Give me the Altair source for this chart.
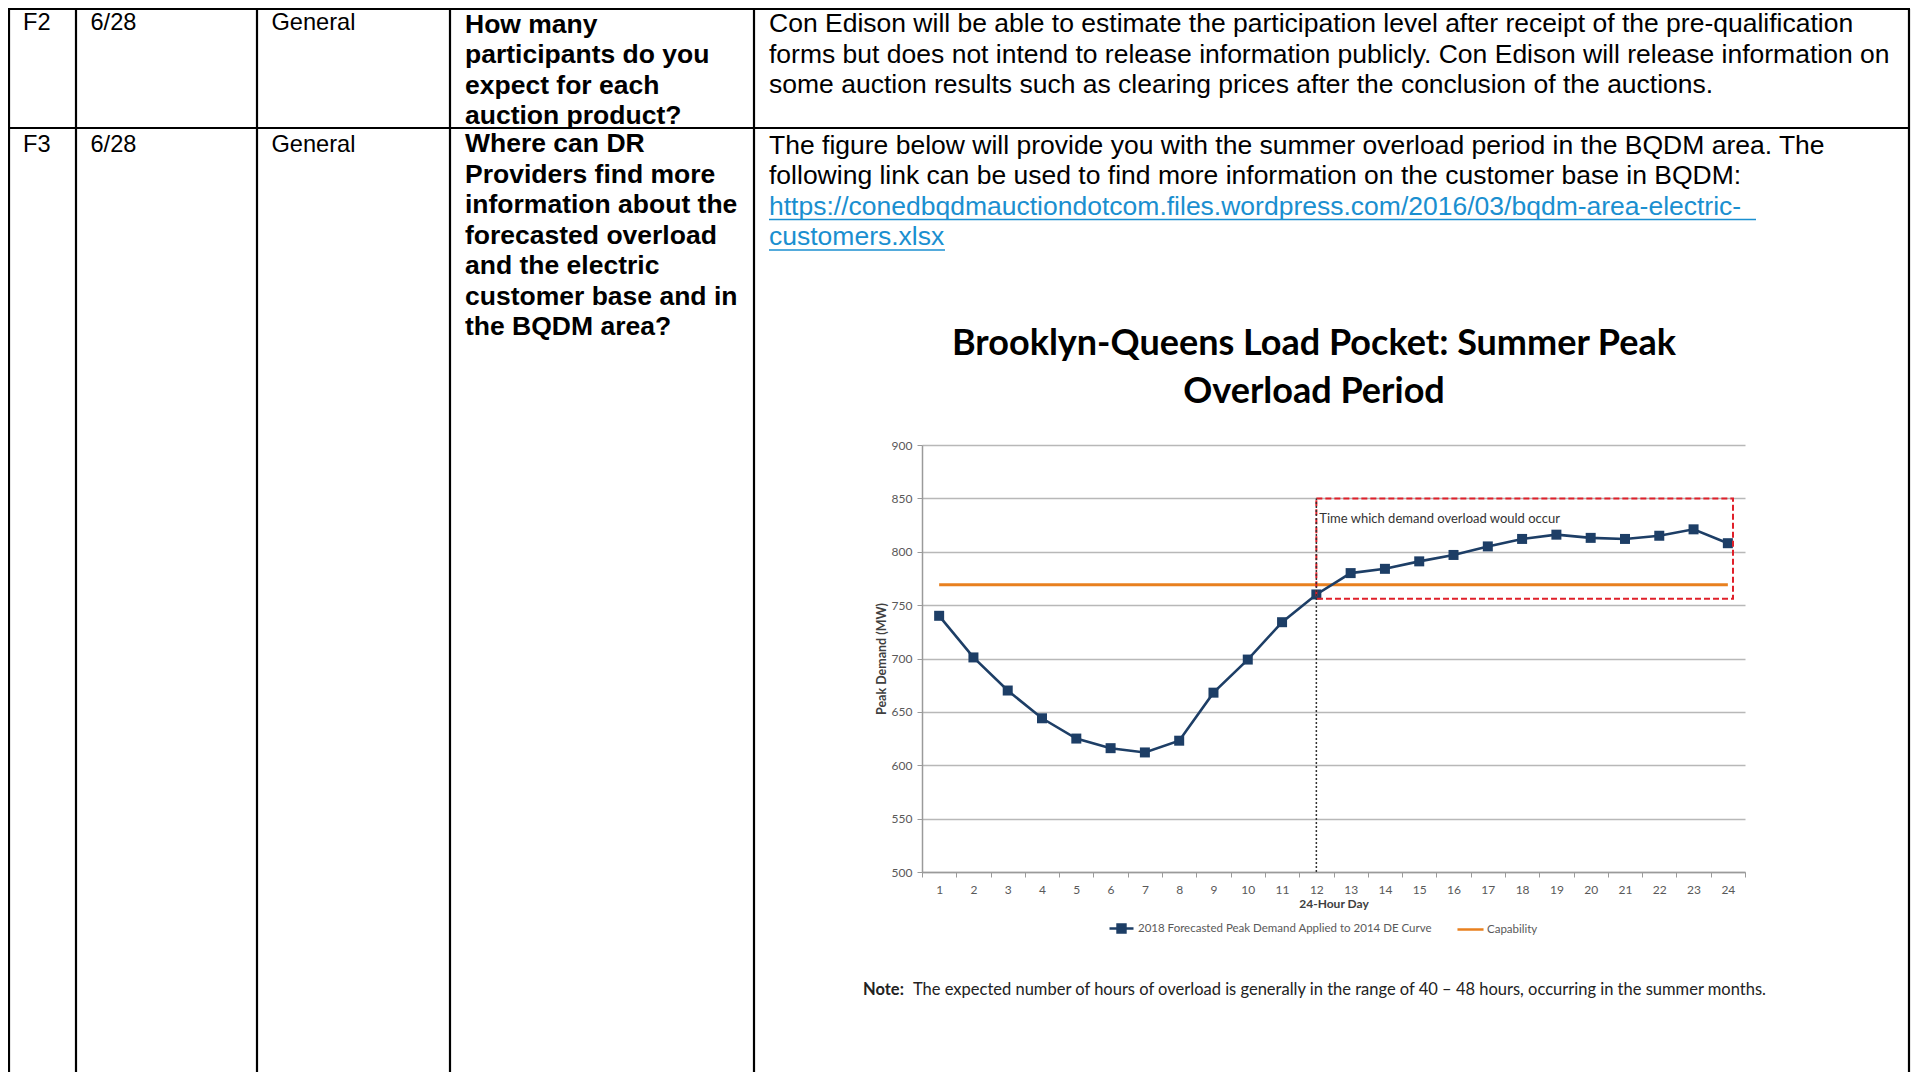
import altair as alt
import pandas as pd

# ------------------------------------------------------------------ chart data
hours = list(range(1, 25))
demand_mw = [740, 701, 670, 644, 625, 616, 612, 623, 668, 699, 734, 760,
             780, 784, 791, 797, 805, 812, 816, 813, 812, 815, 821, 808]
capability_mw = [769, 769, 769, 769, 769, 769, 769, 769, 769, 769, 769, 769,
                 769, 769, 769, 769, 769, 769, 769, 769, 769, 769, 769, 769]
series_names = ["2018 Forecasted Peak Demand Applied to 2014 DE Curve", "Capability"]
y_ticks = [500, 550, 600, 650, 700, 750, 800, 850, 900]
overload_hours = [12, 24.15]
overload_mw = [756, 850]
overload_label = "Time which demand overload would occur"
chart_title = ["Brooklyn-Queens Load Pocket: Summer Peak", "Overload Period"]
x_title = "24-Hour Day"
y_title = "Peak Demand (MW)"
note_bold = "Note:"
note_text = ("The expected number of hours of overload is generally in the range of "
             "40 \u2013 48 hours, occurring in the summer months.")

# ------------------------------------------------------------------ document text
row_ids = ["F2", "F3"]
row_dates = ["6/28", "6/28"]
row_categories = ["General", "General"]
row_questions = [
    ["How many", "participants do you", "expect for each", "auction product?"],
    ["Where can DR", "Providers find more", "information about the",
     "forecasted overload", "and the electric", "customer base and in",
     "the BQDM area?"],
]
row1_answer = [
    "Con Edison will be able to estimate the participation level after receipt of the pre-qualification",
    "forms but does not intend to release information publicly. Con Edison will release information on",
    "some auction results such as clearing prices after the conclusion of the auctions.",
]
row2_answer = [
    "The figure below will provide you with the summer overload period in the BQDM area. The",
    "following link can be used to find more information on the customer base in BQDM:",
]
row2_link = [
    "https://conedbqdmauctiondotcom.files.wordpress.com/2016/03/bqdm-area-electric-",
    "customers.xlsx",
]

# ------------------------------------------------------------------ layout / style
W, H = 823, 427          # plot area
OX, OY = 922, 445        # page position of plot origin
PAD = {"left": OX - 8, "top": OY - 8, "right": 1903 - (OX - 8) - W, "bottom": 200}
NAVY = "#1d3e66"
ORANGE = "#e8801f"
RED = "#e0202a"
GRID = "#b8b8b8"
AX = "#9a9a9a"
LBL = "#595959"
CF = "Lato"
DOC = "Liberation Sans"

anchor = pd.DataFrame({"k": [0]})


def rule(x1, y1, x2, y2, color="#000", width=2.2):
    return alt.Chart(anchor).mark_rule(color=color, strokeWidth=width).encode(
        x=alt.value(x1 - OX), x2=alt.value(x2 - OX),
        y=alt.value(y1 - OY), y2=alt.value(y2 - OY))


def text_block(lines, x, y, size, weight="normal", color="#000", font=DOC,
               align="left", lh=30.5):
    return alt.Chart(anchor).mark_text(
        text=lines, lineHeight=lh, align=align, baseline="alphabetic",
        font=font, fontSize=size, fontWeight=weight, color=color
    ).encode(x=alt.value(x - OX), y=alt.value(y - OY))


# ------------------------------------------------------------------ data frames
demand_df = pd.DataFrame({"hour": hours, "mw": demand_mw, "series": series_names[0]})
cap_df = pd.DataFrame({"hour": hours, "mw": capability_mw, "series": series_names[1]})
box_df = pd.DataFrame({"hour": [overload_hours[0]], "h1": [overload_hours[1]],
                       "mw": [overload_mw[0]], "m1": [overload_mw[1]]})
vline_df = pd.DataFrame({"hour": [overload_hours[0]], "mw": [y_ticks[0]], "m1": [overload_mw[1]]})
ann_df = pd.DataFrame({"hour": [overload_hours[0]], "mw": [overload_mw[1]], "t": [overload_label]})

x_bounds = [h - 0.5 for h in hours] + [hours[-1] + 0.5]
xscale = alt.Scale(domain=[x_bounds[0], x_bounds[-1]], nice=False, zero=False)
yscale = alt.Scale(domain=[y_ticks[0], y_ticks[-1]], nice=False, zero=False)

xaxis = alt.Axis(values=x_bounds,
                 labelExpr=f"datum.value < {hours[-1]} ? format(datum.value + 0.5, 'd') : ''",
                 labelOffset=W / len(hours) / 2, labelFlush=False, labelOverlap=False,
                 labelBound=False, tickSize=5, tickColor=AX, domainColor=AX, domainWidth=1.5,
                 grid=False, labelColor=LBL, labelFont=CF, labelFontSize=12, labelPadding=7,
                 title=x_title, titleFont=CF, titleFontSize=12, titleFontWeight="bold",
                 titleColor="#404040", titlePadding=3)
yaxis = alt.Axis(values=y_ticks, tickSize=5, tickColor=AX, domainColor=AX, domainWidth=1.5,
                 grid=True, gridColor=GRID, gridWidth=1.5, labelColor=LBL, labelFont=CF,
                 labelFontSize=12, labelPadding=5, labelOverlap=False, title=y_title,
                 titleFont=CF, titleFontSize=12.5, titleFontWeight="bold",
                 titleColor="#404040", titlePadding=3)

X = alt.X("hour:Q", scale=xscale, axis=xaxis, title=x_title)
Y = alt.Y("mw:Q", scale=yscale, axis=yaxis, title=y_title)

cap_line = alt.Chart(cap_df).mark_line(strokeWidth=3).encode(
    x=X, y=Y,
    stroke=alt.Stroke("series:N", scale=alt.Scale(domain=[series_names[1]], range=[ORANGE]),
                      legend=alt.Legend(orient="none", legendX=534, legendY=470, title=None,
                                        symbolType="stroke", symbolSize=680,
                                        symbolStrokeWidth=2.5, labelFont=CF,
                                        labelFontSize=11.5, labelColor=LBL, labelOffset=2,
                                        labelLimit=0, padding=0)),
)

demand_line = alt.Chart(demand_df).mark_line(strokeWidth=2.6).encode(
    x=X, y=Y,
    color=alt.Color("series:N", scale=alt.Scale(domain=[series_names[0]], range=[NAVY]),
                    legend=alt.Legend(orient="none", legendX=186, legendY=470, title=None,
                                      symbolType="M-1,0H1M-0.33,-0.33H0.33V0.33H-0.33Z",
                                      symbolSize=576, symbolStrokeWidth=2.5,
                                      symbolFillColor=NAVY, labelFont=CF,
                                      labelFontSize=11.5, labelColor=LBL, labelOffset=3,
                                      labelLimit=0, padding=0)),
)

demand_pts = alt.Chart(demand_df).mark_square(size=100, color=NAVY, opacity=1).encode(
    x=X, y=Y)

box = alt.Chart(box_df).mark_rect(fill="transparent", stroke=RED, strokeWidth=2,
                                  strokeDash=[6, 3]).encode(
    x=X, x2="h1:Q", y=Y, y2="m1:Q")

vline = alt.Chart(vline_df).mark_rule(color="#333333", strokeWidth=1.5,
                                      strokeDash=[2, 2]).encode(
    x=X, y=Y, y2="m1:Q")

ann = alt.Chart(ann_df).mark_text(align="left", baseline="top", dx=3, dy=15, font=CF,
                                  fontSize=13, color="#333333").encode(
    x=X, y=Y, text="t:N")

# ------------------------------------------------------------------ document layers
doc = []
# table grid
for vx in [9, 76, 257, 450, 754, 1909]:
    doc.append(rule(vx, 9, vx, 1100))
for hy in [9, 128]:
    doc.append(rule(8, hy, 1910, hy))

base_y = [30, 152]
q_y = [32.5, 152]
for i in range(2):
    doc.append(text_block([row_ids[i]], 23, base_y[i], 23.6))
    doc.append(text_block([row_dates[i]], 90.5, base_y[i], 23.6))
    doc.append(text_block([row_categories[i]], 271.5, base_y[i], 23.6))
    doc.append(text_block(row_questions[i], 465, q_y[i], 26.5, weight="bold"))

doc.append(text_block(row1_answer, 769, 32, 26.5))
doc.append(text_block(row2_answer, 769, 153.5, 26.5))
doc.append(text_block(row2_link, 769, 214.5, 26.5, color="#1a8fd0"))
doc.append(rule(769, 219.5, 1756, 219.5, color="#1a8fd0", width=1.6))
doc.append(rule(769, 250, 945, 250, color="#1a8fd0", width=1.6))

# figure title and note
doc.append(text_block(chart_title, 1314, 355, 36, weight="bold", font=CF,
                      align="center", lh=48))
doc.append(text_block([note_bold], 863, 995, 16.5, weight="bold", font=CF, color="#222222"))
doc.append(text_block([note_text], 913, 995, 16.5, font=CF, color="#222222"))

chart = alt.layer(cap_line, demand_line, demand_pts, box, vline, ann, *doc).properties(
    width=W, height=H,
    autosize=alt.AutoSizeParams(type="none"),
    padding=PAD,
).configure_view(stroke=None).configure_axis(labelOverlap=False).resolve_legend(
    color="independent", stroke="independent")

chart.save("out.html", embed_options={"renderer": "svg", "actions": False})
